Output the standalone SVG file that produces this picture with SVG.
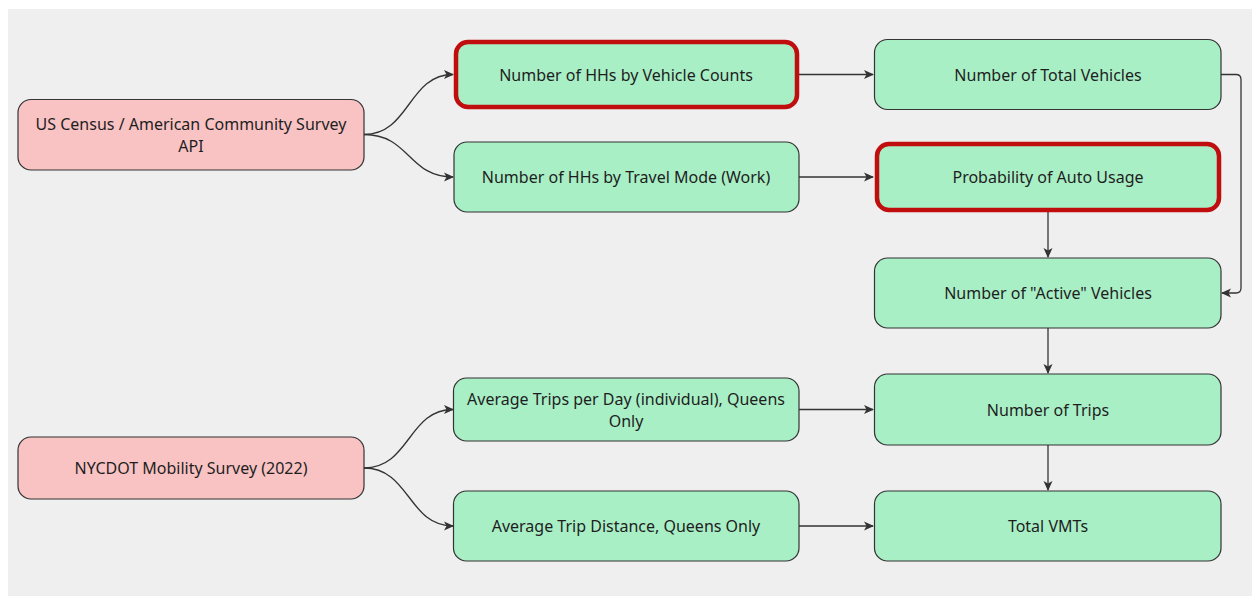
<svg xmlns="http://www.w3.org/2000/svg" width="1252" height="596" viewBox="0 0 1252 596">
  <defs>
    <marker id="arrow" viewBox="0 0 10 10" refX="9" refY="5" markerWidth="10" markerHeight="10" markerUnits="userSpaceOnUse" orient="auto">
      <path d="M0,0.5 L10,5 L0,9.5 L2.5,5 Z" fill="#333"/>
    </marker>
  </defs>
  <style>
    .src { fill: #f9c3c3; stroke: #333; stroke-width: 1.2; }
    .step { fill: #a9efc6; stroke: #333; stroke-width: 1.2; }
    .key { fill: #a9efc6; stroke: #c00d0d; stroke-width: 4.5; }
    .lbl { font-family: "Noto Sans", "Open Sans", sans-serif; font-size: 16px; fill: #1e1e1e; text-anchor: middle; dominant-baseline: central; }
    .edge { fill: none; stroke: #333; stroke-width: 1.3; marker-end: url(#arrow); }
  </style>

  <rect x="0" y="0" width="1252" height="596" fill="#ffffff"/>
  <rect x="8" y="9" width="1244" height="587" fill="#efefef"/>

  <g id="connectors">
    <path class="edge" d="M364,134.5 C410,134.5 408,74.5 453,74.5"/>
    <path class="edge" d="M364,134.5 C410,134.5 408,177 453,177"/>
    <path class="edge" d="M364,468 C410,468 408,409.5 453,409.5"/>
    <path class="edge" d="M364,468 C410,468 408,526 453,526"/>
    <path class="edge" d="M798,74.5 L873,74.5"/>
    <path class="edge" d="M799,177 L873,177"/>
    <path class="edge" d="M1221,74.5 L1236,74.5 Q1241,74.5 1241,79.5 L1241,288 Q1241,293 1236,293 L1222,293"/>
    <path class="edge" d="M1048,212 L1048,257"/>
    <path class="edge" d="M1048,328 L1048,373"/>
    <path class="edge" d="M799,409.5 L873,409.5"/>
    <path class="edge" d="M1048,445 L1048,490"/>
    <path class="edge" d="M799,526 L873,526"/>
  </g>

  <g id="census-api">
    <rect class="src" x="18" y="99.5" width="346" height="70.5" rx="13"/>
    <text class="lbl" x="191" y="123.5">US Census / American Community Survey</text>
    <text class="lbl" x="191" y="145.5">API</text>
  </g>

  <g id="nycdot-survey">
    <rect class="src" x="18" y="437" width="346" height="62" rx="13"/>
    <text class="lbl" x="191" y="468">NYCDOT Mobility Survey (2022)</text>
  </g>

  <g id="hh-vehicle-counts">
    <rect class="key" x="456" y="42" width="341" height="65" rx="12"/>
    <text class="lbl" x="626" y="74.5">Number of HHs by Vehicle Counts</text>
  </g>

  <g id="hh-travel-mode">
    <rect class="step" x="454" y="142" width="345" height="70" rx="13"/>
    <text class="lbl" x="626" y="177">Number of HHs by Travel Mode (Work)</text>
  </g>

  <g id="total-vehicles">
    <rect class="step" x="874.5" y="39.5" width="346.5" height="70" rx="13"/>
    <text class="lbl" x="1048" y="74.5">Number of Total Vehicles</text>
  </g>

  <g id="auto-usage">
    <rect class="key" x="877" y="144" width="342" height="66" rx="12"/>
    <text class="lbl" x="1048" y="177">Probability of Auto Usage</text>
  </g>

  <g id="active-vehicles">
    <rect class="step" x="874.5" y="258" width="346.5" height="70" rx="13"/>
    <text class="lbl" x="1048" y="293">Number of "Active" Vehicles</text>
  </g>

  <g id="avg-trips">
    <rect class="step" x="453.5" y="378" width="345.5" height="63" rx="13"/>
    <text class="lbl" x="626" y="398.5">Average Trips per Day (individual), Queens</text>
    <text class="lbl" x="626" y="421">Only</text>
  </g>

  <g id="trips">
    <rect class="step" x="874.5" y="374" width="346.5" height="71" rx="13"/>
    <text class="lbl" x="1048" y="409.5">Number of Trips</text>
  </g>

  <g id="avg-distance">
    <rect class="step" x="453.5" y="491" width="345.5" height="70" rx="13"/>
    <text class="lbl" x="626" y="526">Average Trip Distance, Queens Only</text>
  </g>

  <g id="total-vmt">
    <rect class="step" x="874.5" y="491" width="346.5" height="70" rx="13"/>
    <text class="lbl" x="1048" y="526">Total VMTs</text>
  </g>
</svg>
